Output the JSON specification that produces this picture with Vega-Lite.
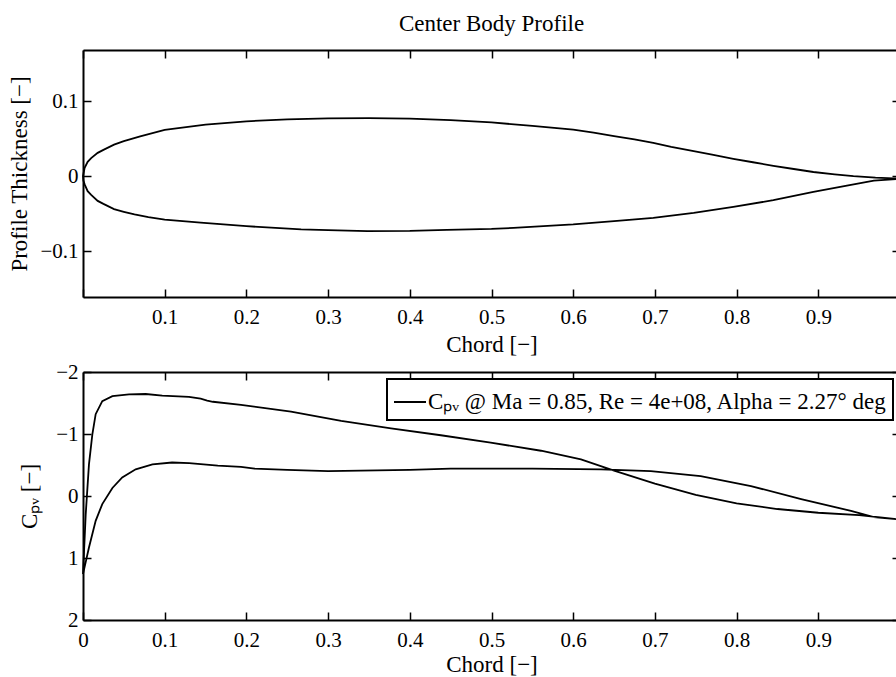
{
  "$schema": "https://vega.github.io/schema/vega-lite/v6.json",
  "padding": {"left": 8, "top": 13, "right": 0, "bottom": 4},
  "background": "white",
  "resolve": {"legend": {"color": "independent"}},
  "config": {
    "font": "Liberation Serif",
    "view": {"stroke": null},
    "axis": {
      "labelFont": "Liberation Serif", "titleFont": "Liberation Serif",
      "labelFontSize": 21, "titleFontSize": 23, "titleFontWeight": "normal",
      "labelColor": "black", "titleColor": "black",
      "domainColor": "black", "domainWidth": 2, "tickColor": "black", "tickWidth": 1.5,
      "tickSize": -8, "grid": false, "labelFlush": false, "labelOverlap": false
    },
    "title": {"font": "Liberation Serif", "fontSize": 23, "fontWeight": "normal", "color": "black"},
    "concat": {"spacing": 5}
  },
  "vconcat": [
    {
      "title": {"text": "Center Body Profile", "offset": 13},
      "width": 817,
      "height": 247,
      "data": {"values": [
        {"i": 0, "x": 1.0, "t": -0.0035},
        {"i": 1, "x": 0.992, "t": -0.003},
        {"i": 2, "x": 0.97, "t": -0.002},
        {"i": 3, "x": 0.943, "t": 0.0},
        {"i": 4, "x": 0.92, "t": 0.0023},
        {"i": 5, "x": 0.894, "t": 0.0055},
        {"i": 6, "x": 0.87, "t": 0.0095},
        {"i": 7, "x": 0.845, "t": 0.0138},
        {"i": 8, "x": 0.82, "t": 0.0185},
        {"i": 9, "x": 0.796, "t": 0.023},
        {"i": 10, "x": 0.77, "t": 0.0285},
        {"i": 11, "x": 0.7475, "t": 0.0333},
        {"i": 12, "x": 0.72, "t": 0.039},
        {"i": 13, "x": 0.698, "t": 0.0444},
        {"i": 14, "x": 0.675, "t": 0.049},
        {"i": 15, "x": 0.65, "t": 0.0533},
        {"i": 16, "x": 0.625, "t": 0.058},
        {"i": 17, "x": 0.6, "t": 0.062},
        {"i": 18, "x": 0.55, "t": 0.067},
        {"i": 19, "x": 0.5, "t": 0.0715},
        {"i": 20, "x": 0.45, "t": 0.0747},
        {"i": 21, "x": 0.4, "t": 0.0765},
        {"i": 22, "x": 0.35, "t": 0.0772},
        {"i": 23, "x": 0.3, "t": 0.077},
        {"i": 24, "x": 0.25, "t": 0.0756},
        {"i": 25, "x": 0.2, "t": 0.073},
        {"i": 26, "x": 0.15, "t": 0.0685},
        {"i": 27, "x": 0.1, "t": 0.0615},
        {"i": 28, "x": 0.07, "t": 0.053},
        {"i": 29, "x": 0.05, "t": 0.0465},
        {"i": 30, "x": 0.038, "t": 0.042},
        {"i": 31, "x": 0.025, "t": 0.035},
        {"i": 32, "x": 0.018, "t": 0.031},
        {"i": 33, "x": 0.01, "t": 0.024},
        {"i": 34, "x": 0.0057, "t": 0.019},
        {"i": 35, "x": 0.002, "t": 0.011},
        {"i": 36, "x": 0.0, "t": 0.0},
        {"i": 37, "x": 0.0005, "t": -0.006},
        {"i": 38, "x": 0.002, "t": -0.011},
        {"i": 39, "x": 0.0057, "t": -0.02},
        {"i": 40, "x": 0.01, "t": -0.025},
        {"i": 41, "x": 0.018, "t": -0.033},
        {"i": 42, "x": 0.025, "t": -0.037},
        {"i": 43, "x": 0.038, "t": -0.044},
        {"i": 44, "x": 0.05, "t": -0.0475},
        {"i": 45, "x": 0.063, "t": -0.051},
        {"i": 46, "x": 0.08, "t": -0.0545},
        {"i": 47, "x": 0.1, "t": -0.058},
        {"i": 48, "x": 0.144, "t": -0.062},
        {"i": 49, "x": 0.2, "t": -0.0667},
        {"i": 50, "x": 0.267, "t": -0.071},
        {"i": 51, "x": 0.3, "t": -0.072},
        {"i": 52, "x": 0.348, "t": -0.0733},
        {"i": 53, "x": 0.4, "t": -0.073},
        {"i": 54, "x": 0.4455, "t": -0.0716},
        {"i": 55, "x": 0.5, "t": -0.0703},
        {"i": 56, "x": 0.527, "t": -0.069},
        {"i": 57, "x": 0.6, "t": -0.0644},
        {"i": 58, "x": 0.65, "t": -0.06},
        {"i": 59, "x": 0.698, "t": -0.0556},
        {"i": 60, "x": 0.7475, "t": -0.049},
        {"i": 61, "x": 0.796, "t": -0.041},
        {"i": 62, "x": 0.845, "t": -0.032},
        {"i": 63, "x": 0.894, "t": -0.021},
        {"i": 64, "x": 0.935, "t": -0.0125},
        {"i": 65, "x": 0.968, "t": -0.006},
        {"i": 66, "x": 1.0, "t": -0.0035}
      ]},
      "layer": [
        {
          "mark": {"type": "line", "color": "black", "strokeWidth": 1.8},
          "encoding": {
            "x": {"field": "x", "type": "quantitative",
                  "scale": {"domain": [0, 1], "nice": false, "zero": false},
                  "axis": {"orient": "bottom", "title": "Chord [−]", "format": "~g",
                           "values": [0, 0.1, 0.2, 0.3, 0.4, 0.5, 0.6, 0.7, 0.8, 0.9, 1],
                           "labelExpr": "datum.value == 0 ? '' : datum.label",
                           "labelPadding": 17, "titlePadding": 6}},
            "y": {"field": "t", "type": "quantitative",
                  "scale": {"domain": [-0.161, 0.168], "nice": false, "zero": false},
                  "axis": {"orient": "left", "title": "Profile Thickness [−]", "format": "~g",
                           "values": [-0.1, 0, 0.1], "labelPadding": 13, "titlePadding": 8}},
            "order": {"field": "i", "type": "quantitative"}
          }
        },
        {
          "mark": {"type": "point", "opacity": 0},
          "encoding": {
            "x": {"field": "x", "type": "quantitative",
                  "axis": {"orient": "top", "title": null, "labels": false,
                           "values": [0, 0.1, 0.2, 0.3, 0.4, 0.5, 0.6, 0.7, 0.8, 0.9, 1]}},
            "y": {"field": "t", "type": "quantitative",
                  "axis": {"orient": "right", "title": null, "labels": false,
                           "values": [-0.1, 0, 0.1]}}
          }
        }
      ],
      "resolve": {"axis": {"x": "independent", "y": "independent"}}
    },
    {
      "width": 817,
      "height": 248,
      "data": {"values": [
        {"i": 0, "x": 1.0, "cp": 0.38, "s": "Cₚᵥ @ Ma = 0.85, Re = 4e+08, Alpha = 2.27° deg"},
        {"i": 1, "x": 0.993, "cp": 0.37, "s": "Cₚᵥ @ Ma = 0.85, Re = 4e+08, Alpha = 2.27° deg"},
        {"i": 2, "x": 0.95, "cp": 0.31, "s": "Cₚᵥ @ Ma = 0.85, Re = 4e+08, Alpha = 2.27° deg"},
        {"i": 3, "x": 0.9, "cp": 0.27, "s": "Cₚᵥ @ Ma = 0.85, Re = 4e+08, Alpha = 2.27° deg"},
        {"i": 4, "x": 0.85, "cp": 0.21, "s": "Cₚᵥ @ Ma = 0.85, Re = 4e+08, Alpha = 2.27° deg"},
        {"i": 5, "x": 0.8, "cp": 0.12, "s": "Cₚᵥ @ Ma = 0.85, Re = 4e+08, Alpha = 2.27° deg"},
        {"i": 6, "x": 0.75, "cp": -0.02, "s": "Cₚᵥ @ Ma = 0.85, Re = 4e+08, Alpha = 2.27° deg"},
        {"i": 7, "x": 0.7, "cp": -0.2, "s": "Cₚᵥ @ Ma = 0.85, Re = 4e+08, Alpha = 2.27° deg"},
        {"i": 8, "x": 0.65, "cp": -0.41, "s": "Cₚᵥ @ Ma = 0.85, Re = 4e+08, Alpha = 2.27° deg"},
        {"i": 9, "x": 0.6095, "cp": -0.59, "s": "Cₚᵥ @ Ma = 0.85, Re = 4e+08, Alpha = 2.27° deg"},
        {"i": 10, "x": 0.5606, "cp": -0.73, "s": "Cₚᵥ @ Ma = 0.85, Re = 4e+08, Alpha = 2.27° deg"},
        {"i": 11, "x": 0.499, "cp": -0.86, "s": "Cₚᵥ @ Ma = 0.85, Re = 4e+08, Alpha = 2.27° deg"},
        {"i": 12, "x": 0.438, "cp": -0.98, "s": "Cₚᵥ @ Ma = 0.85, Re = 4e+08, Alpha = 2.27° deg"},
        {"i": 13, "x": 0.377, "cp": -1.09, "s": "Cₚᵥ @ Ma = 0.85, Re = 4e+08, Alpha = 2.27° deg"},
        {"i": 14, "x": 0.316, "cp": -1.21, "s": "Cₚᵥ @ Ma = 0.85, Re = 4e+08, Alpha = 2.27° deg"},
        {"i": 15, "x": 0.2546, "cp": -1.36, "s": "Cₚᵥ @ Ma = 0.85, Re = 4e+08, Alpha = 2.27° deg"},
        {"i": 16, "x": 0.1934, "cp": -1.47, "s": "Cₚᵥ @ Ma = 0.85, Re = 4e+08, Alpha = 2.27° deg"},
        {"i": 17, "x": 0.159, "cp": -1.52, "s": "Cₚᵥ @ Ma = 0.85, Re = 4e+08, Alpha = 2.27° deg"},
        {"i": 18, "x": 0.152, "cp": -1.54, "s": "Cₚᵥ @ Ma = 0.85, Re = 4e+08, Alpha = 2.27° deg"},
        {"i": 19, "x": 0.144, "cp": -1.57, "s": "Cₚᵥ @ Ma = 0.85, Re = 4e+08, Alpha = 2.27° deg"},
        {"i": 20, "x": 0.1297, "cp": -1.6, "s": "Cₚᵥ @ Ma = 0.85, Re = 4e+08, Alpha = 2.27° deg"},
        {"i": 21, "x": 0.097, "cp": -1.62, "s": "Cₚᵥ @ Ma = 0.85, Re = 4e+08, Alpha = 2.27° deg"},
        {"i": 22, "x": 0.0767, "cp": -1.645, "s": "Cₚᵥ @ Ma = 0.85, Re = 4e+08, Alpha = 2.27° deg"},
        {"i": 23, "x": 0.0563, "cp": -1.64, "s": "Cₚᵥ @ Ma = 0.85, Re = 4e+08, Alpha = 2.27° deg"},
        {"i": 24, "x": 0.036, "cp": -1.61, "s": "Cₚᵥ @ Ma = 0.85, Re = 4e+08, Alpha = 2.27° deg"},
        {"i": 25, "x": 0.0236, "cp": -1.53, "s": "Cₚᵥ @ Ma = 0.85, Re = 4e+08, Alpha = 2.27° deg"},
        {"i": 26, "x": 0.0155, "cp": -1.32, "s": "Cₚᵥ @ Ma = 0.85, Re = 4e+08, Alpha = 2.27° deg"},
        {"i": 27, "x": 0.0114, "cp": -0.99, "s": "Cₚᵥ @ Ma = 0.85, Re = 4e+08, Alpha = 2.27° deg"},
        {"i": 28, "x": 0.0073, "cp": -0.51, "s": "Cₚᵥ @ Ma = 0.85, Re = 4e+08, Alpha = 2.27° deg"},
        {"i": 29, "x": 0.0033, "cp": 0.3, "s": "Cₚᵥ @ Ma = 0.85, Re = 4e+08, Alpha = 2.27° deg"},
        {"i": 30, "x": 0.0, "cp": 1.26, "s": "Cₚᵥ @ Ma = 0.85, Re = 4e+08, Alpha = 2.27° deg"},
        {"i": 31, "x": 0.0073, "cp": 0.83, "s": "Cₚᵥ @ Ma = 0.85, Re = 4e+08, Alpha = 2.27° deg"},
        {"i": 32, "x": 0.0155, "cp": 0.4, "s": "Cₚᵥ @ Ma = 0.85, Re = 4e+08, Alpha = 2.27° deg"},
        {"i": 33, "x": 0.0236, "cp": 0.13, "s": "Cₚᵥ @ Ma = 0.85, Re = 4e+08, Alpha = 2.27° deg"},
        {"i": 34, "x": 0.036, "cp": -0.13, "s": "Cₚᵥ @ Ma = 0.85, Re = 4e+08, Alpha = 2.27° deg"},
        {"i": 35, "x": 0.048, "cp": -0.3, "s": "Cₚᵥ @ Ma = 0.85, Re = 4e+08, Alpha = 2.27° deg"},
        {"i": 36, "x": 0.0645, "cp": -0.43, "s": "Cₚᵥ @ Ma = 0.85, Re = 4e+08, Alpha = 2.27° deg"},
        {"i": 37, "x": 0.085, "cp": -0.51, "s": "Cₚᵥ @ Ma = 0.85, Re = 4e+08, Alpha = 2.27° deg"},
        {"i": 38, "x": 0.109, "cp": -0.54, "s": "Cₚᵥ @ Ma = 0.85, Re = 4e+08, Alpha = 2.27° deg"},
        {"i": 39, "x": 0.13, "cp": -0.53, "s": "Cₚᵥ @ Ma = 0.85, Re = 4e+08, Alpha = 2.27° deg"},
        {"i": 40, "x": 0.165, "cp": -0.49, "s": "Cₚᵥ @ Ma = 0.85, Re = 4e+08, Alpha = 2.27° deg"},
        {"i": 41, "x": 0.1934, "cp": -0.47, "s": "Cₚᵥ @ Ma = 0.85, Re = 4e+08, Alpha = 2.27° deg"},
        {"i": 42, "x": 0.21, "cp": -0.44, "s": "Cₚᵥ @ Ma = 0.85, Re = 4e+08, Alpha = 2.27° deg"},
        {"i": 43, "x": 0.25, "cp": -0.42, "s": "Cₚᵥ @ Ma = 0.85, Re = 4e+08, Alpha = 2.27° deg"},
        {"i": 44, "x": 0.3, "cp": -0.4, "s": "Cₚᵥ @ Ma = 0.85, Re = 4e+08, Alpha = 2.27° deg"},
        {"i": 45, "x": 0.4, "cp": -0.42, "s": "Cₚᵥ @ Ma = 0.85, Re = 4e+08, Alpha = 2.27° deg"},
        {"i": 46, "x": 0.45, "cp": -0.44, "s": "Cₚᵥ @ Ma = 0.85, Re = 4e+08, Alpha = 2.27° deg"},
        {"i": 47, "x": 0.55, "cp": -0.44, "s": "Cₚᵥ @ Ma = 0.85, Re = 4e+08, Alpha = 2.27° deg"},
        {"i": 48, "x": 0.634, "cp": -0.43, "s": "Cₚᵥ @ Ma = 0.85, Re = 4e+08, Alpha = 2.27° deg"},
        {"i": 49, "x": 0.695, "cp": -0.4, "s": "Cₚᵥ @ Ma = 0.85, Re = 4e+08, Alpha = 2.27° deg"},
        {"i": 50, "x": 0.756, "cp": -0.32, "s": "Cₚᵥ @ Ma = 0.85, Re = 4e+08, Alpha = 2.27° deg"},
        {"i": 51, "x": 0.8176, "cp": -0.16, "s": "Cₚᵥ @ Ma = 0.85, Re = 4e+08, Alpha = 2.27° deg"},
        {"i": 52, "x": 0.879, "cp": 0.05, "s": "Cₚᵥ @ Ma = 0.85, Re = 4e+08, Alpha = 2.27° deg"},
        {"i": 53, "x": 0.94, "cp": 0.24, "s": "Cₚᵥ @ Ma = 0.85, Re = 4e+08, Alpha = 2.27° deg"},
        {"i": 54, "x": 0.968, "cp": 0.34, "s": "Cₚᵥ @ Ma = 0.85, Re = 4e+08, Alpha = 2.27° deg"},
        {"i": 55, "x": 1.0, "cp": 0.38, "s": "Cₚᵥ @ Ma = 0.85, Re = 4e+08, Alpha = 2.27° deg"}
      ]},
      "layer": [
        {
          "mark": {"type": "line", "strokeWidth": 1.8},
          "encoding": {
            "x": {"field": "x", "type": "quantitative",
                  "scale": {"domain": [0, 1], "nice": false, "zero": false},
                  "axis": {"orient": "bottom", "title": "Chord [−]", "format": "~g",
                           "values": [0, 0.1, 0.2, 0.3, 0.4, 0.5, 0.6, 0.7, 0.8, 0.9, 1],
                           "labelPadding": 17, "titlePadding": 3}},
            "y": {"field": "cp", "type": "quantitative",
                  "scale": {"domain": [-2, 2], "nice": false, "zero": false, "reverse": true},
                  "axis": {"orient": "left", "title": "Cₚᵥ [−]", "format": "~g",
                           "values": [-2, -1, 0, 1, 2], "labelPadding": 13, "titlePadding": 14}},
            "color": {"field": "s", "type": "nominal",
                      "scale": {"range": ["black"]},
                      "legend": {"title": null, "orient": "top-right", "offset": 7,
                                 "strokeColor": "black", "fillColor": "white",
                                 "padding": 6, "symbolType": "stroke", "symbolSize": 1024,
                                 "symbolStrokeWidth": 2, "labelFont": "Liberation Serif",
                                 "labelFontSize": 23, "labelColor": "black", "labelLimit": 700,
                                 "labelOffset": 1,
                                 "encode": {"legend": {"update": {"strokeWidth": {"value": 2}}}}}},
            "order": {"field": "i", "type": "quantitative"}
          }
        },
        {
          "mark": {"type": "point", "opacity": 0},
          "encoding": {
            "x": {"field": "x", "type": "quantitative",
                  "axis": {"orient": "top", "title": null, "labels": false,
                           "values": [0, 0.1, 0.2, 0.3, 0.4, 0.5, 0.6, 0.7, 0.8, 0.9, 1]}},
            "y": {"field": "cp", "type": "quantitative",
                  "axis": {"orient": "right", "title": null, "labels": false,
                           "values": [-2, -1, 0, 1, 2]}}
          }
        }
      ],
      "resolve": {"axis": {"x": "independent", "y": "independent"}}
    }
  ]
}
